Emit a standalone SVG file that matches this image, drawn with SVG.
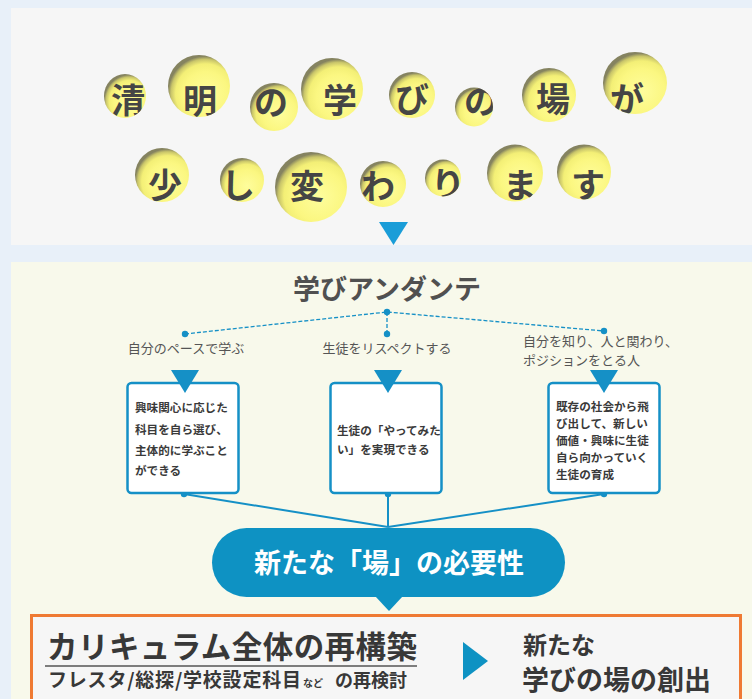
<svg xmlns="http://www.w3.org/2000/svg" width="752" height="699" viewBox="0 0 752 699">
<style>
text{font-family:'Noto Sans CJK JP','Noto Sans',sans-serif;}
.bub{fill:url(#bg);}
.bt{font-size:34px;font-weight:bold;fill:#454545;text-anchor:middle;}
.lbl{font-size:13px;fill:#555;}
.bx{fill:#fff;stroke:#1590c6;stroke-width:2.5;}
.bxt{font-size:11.6px;font-weight:bold;fill:#3a3a3a;}
.tri{fill:#1590c6;}
.dash{stroke:#1590c6;stroke-width:1.3;stroke-dasharray:4 2;fill:none;}
.ln{stroke:#1590c6;stroke-width:2;fill:none;}
.dot{fill:#1590c6;}
</style>
<defs>
<radialGradient id="bg" cx="0.6" cy="0.62" r="0.6" fx="0.62" fy="0.64">
<stop offset="0" stop-color="#fefd9c"/>
<stop offset="0.6" stop-color="#fbf781"/>
<stop offset="0.8" stop-color="#f3ef76"/>
<stop offset="0.92" stop-color="#c9c56a"/>
<stop offset="1" stop-color="#858360"/>
</radialGradient>
<clipPath id="c1"><ellipse cx="125" cy="96" rx="21" ry="22"/></clipPath>
<clipPath id="c2"><ellipse cx="199" cy="86" rx="31" ry="31"/></clipPath>
<clipPath id="c3"><ellipse cx="274" cy="107" rx="24" ry="24"/></clipPath>
<clipPath id="c4"><ellipse cx="332" cy="89" rx="31" ry="31"/></clipPath>
<clipPath id="c5"><ellipse cx="412" cy="95" rx="23" ry="23"/></clipPath>
<clipPath id="c6"><ellipse cx="474" cy="107" rx="19" ry="19.5"/></clipPath>
<clipPath id="c7"><ellipse cx="549" cy="95" rx="27" ry="27"/></clipPath>
<clipPath id="c8"><ellipse cx="635" cy="83" rx="32" ry="31"/></clipPath>
<clipPath id="c9"><ellipse cx="162" cy="175" rx="27" ry="27"/></clipPath>
<clipPath id="c10"><ellipse cx="242" cy="180" rx="22" ry="22"/></clipPath>
<clipPath id="c11"><ellipse cx="311" cy="187" rx="36" ry="35"/></clipPath>
<clipPath id="c12"><ellipse cx="383" cy="184" rx="23" ry="23"/></clipPath>
<clipPath id="c13"><ellipse cx="443" cy="178" rx="18" ry="18.5"/></clipPath>
<clipPath id="c14"><ellipse cx="515" cy="173" rx="28" ry="28.5"/></clipPath>
<clipPath id="c15"><ellipse cx="584" cy="172" rx="27" ry="27.5"/></clipPath>
</defs>
<rect x="0" y="0" width="752" height="699" fill="#e8f0f9"/>
<rect x="11" y="8" width="741" height="237" fill="#f6f6f6"/>
<rect x="11" y="262" width="741" height="437" fill="#f8f9eb"/>

<g id="title-bubbles">
<g id="b1"><ellipse class="bub" cx="125" cy="96" rx="21" ry="22"/><text class="bt" x="128" y="113" clip-path="url(#c1)">清</text></g>
<g id="b2"><ellipse class="bub" cx="199" cy="86" rx="31" ry="31"/><text class="bt" x="200" y="114" clip-path="url(#c2)">明</text></g>
<g id="b3"><ellipse class="bub" cx="274" cy="107" rx="24" ry="24"/><text class="bt" x="271" y="115" clip-path="url(#c3)">の</text></g>
<g id="b4"><ellipse class="bub" cx="332" cy="89" rx="31" ry="31"/><text class="bt" x="340" y="113" clip-path="url(#c4)">学</text></g>
<g id="b5"><ellipse class="bub" cx="412" cy="95" rx="23" ry="23"/><text class="bt" x="412" y="112" clip-path="url(#c5)">び</text></g>
<g id="b6"><ellipse class="bub" cx="474" cy="107" rx="19" ry="19.5"/><text class="bt" x="481" y="114" clip-path="url(#c6)">の</text></g>
<g id="b7"><ellipse class="bub" cx="549" cy="95" rx="27" ry="27"/><text class="bt" x="553" y="112" clip-path="url(#c7)">場</text></g>
<g id="b8"><ellipse class="bub" cx="635" cy="83" rx="32" ry="31"/><text class="bt" x="627" y="112" clip-path="url(#c8)">が</text></g>
<g id="b9"><ellipse class="bub" cx="162" cy="175" rx="27" ry="27"/><text class="bt" x="165" y="198" clip-path="url(#c9)">少</text></g>
<g id="b10"><ellipse class="bub" cx="242" cy="180" rx="22" ry="22"/><text class="bt" x="238" y="198" clip-path="url(#c10)">し</text></g>
<g id="b11"><ellipse class="bub" cx="311" cy="187" rx="36" ry="35"/><text class="bt" x="307" y="199" clip-path="url(#c11)">変</text></g>
<g id="b12"><ellipse class="bub" cx="383" cy="184" rx="23" ry="23"/><text class="bt" x="378" y="199" clip-path="url(#c12)">わ</text></g>
<g id="b13"><ellipse class="bub" cx="443" cy="178" rx="18" ry="18.5"/><text class="bt" x="448" y="197" clip-path="url(#c13)">り</text></g>
<g id="b14"><ellipse class="bub" cx="515" cy="173" rx="28" ry="28.5"/><text class="bt" x="520" y="198" clip-path="url(#c14)">ま</text></g>
<g id="b15"><ellipse class="bub" cx="584" cy="172" rx="27" ry="27.5"/><text class="bt" x="588" y="198" clip-path="url(#c15)">す</text></g>
</g>
<polygon id="down-arrow" points="379,222 408,222 393.5,245" fill="#1a9dd8"/>

<g id="heading"><text x="387" y="299" font-size="27" font-weight="bold" fill="#505050" text-anchor="middle">学びアンダンテ</text></g>

<g id="connectors">
<polyline class="dash" points="185,334 387,312 604,331"/>
<line class="dash" x1="387" y1="312" x2="387" y2="334"/>
<circle class="dot" cx="387" cy="312" r="3.2"/>
<circle class="dot" cx="185" cy="334" r="3.2"/>
<circle class="dot" cx="387" cy="334" r="3.2"/>
<circle class="dot" cx="604" cy="331" r="3.2"/>
<line class="ln" x1="184" y1="494" x2="388" y2="527"/>
<line class="ln" x1="388" y1="494" x2="388" y2="527"/>
<line class="ln" x1="604" y1="494" x2="388" y2="527"/>
<circle class="dot" cx="184" cy="494" r="3.2"/>
<circle class="dot" cx="388" cy="494" r="3.2"/>
<circle class="dot" cx="604" cy="494" r="3.2"/>
</g>

<g id="label-left"><text class="lbl" x="186" y="353" text-anchor="middle">自分のペースで学ぶ</text></g>
<g id="label-mid"><text class="lbl" x="387" y="353" text-anchor="middle">生徒をリスペクトする</text></g>
<g id="label-right"><text class="lbl" x="523" y="346" font-size="12.6">自分を知り、人と関わり、</text><text class="lbl" x="523" y="364.5" font-size="12.6">ポジションをとる人</text></g>

<g id="box-left">
<rect class="bx" x="127.5" y="383" width="111" height="110" rx="4"/>
<polygon class="tri" points="171,370 199,370 185,393"/>
<text class="bxt" x="135" y="412">興味関心に応じた</text>
<text class="bxt" x="135" y="434">科目を自ら選び、</text>
<text class="bxt" x="135" y="455">主体的に学ぶこと</text>
<text class="bxt" x="135" y="475">ができる</text>
</g>
<g id="box-mid">
<rect class="bx" x="330.5" y="383" width="111" height="110" rx="4"/>
<polygon class="tri" points="374,370 402,370 388,393"/>
<text class="bxt" x="337" y="435">生徒の「やってみた</text>
<text class="bxt" x="337" y="454">い」を実現できる</text>
</g>
<g id="box-right">
<rect class="bx" x="548.5" y="383" width="111" height="110" rx="4"/>
<polygon class="tri" points="590,370 618,370 604,393"/>
<text class="bxt" x="556" y="411">既存の社会から飛</text>
<text class="bxt" x="556" y="428">び出して、新しい</text>
<text class="bxt" x="556" y="445">価値・興味に生徒</text>
<text class="bxt" x="556" y="462">自ら向かっていく</text>
<text class="bxt" x="556" y="479">生徒の育成</text>
</g>

<g id="pill">
<rect x="212" y="528" width="353" height="69" rx="34.5" fill="#0e92c3"/>
<polygon points="375,596 403,596 389,611" fill="#0e92c3"/>
<text x="389" y="573" font-size="27" font-weight="bold" fill="#fff" text-anchor="middle">新たな「場」の必要性</text>
</g>

<g id="result-box">
<rect x="31.5" y="615.5" width="709" height="100" fill="#f6f6f6" stroke="#ef7a33" stroke-width="3"/>
<text x="47" y="658" font-size="30.5" font-weight="bold" fill="#383838" textLength="370" lengthAdjust="spacing">カリキュラム全体の再構築</text>
<line x1="45" y1="666" x2="417" y2="666" stroke="#555" stroke-width="1.5"/>
<text x="48" y="687" font-size="19" font-weight="bold" fill="#383838" textLength="253" lengthAdjust="spacing">フレスタ/総探/学校設定科目</text>
<text x="303" y="687" font-size="10" font-weight="bold" fill="#383838">など</text>
<text x="335" y="687" font-size="18" font-weight="bold" fill="#383838">の再検討</text>
<polygon points="463,642 488,661 463,680" fill="#0e92c3"/>
<text x="523" y="654" font-size="24" font-weight="bold" fill="#383838">新たな</text>
<text x="522" y="690" font-size="27" font-weight="bold" fill="#383838">学びの場の創出</text>
</g>
</svg>
